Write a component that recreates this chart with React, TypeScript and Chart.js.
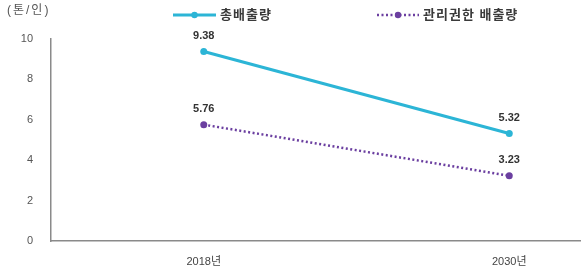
import React, { useEffect, useRef } from "react";
import { Chart, registerables } from "chart.js";

Chart.register(...registerables);

const categories = ["2018년", "2030년"];
const totalEmission = [9.38, 5.32];
const managedEmission = [5.76, 3.23];
const seriesNames = ["총배출량", "관리권한 배출량"];
const yTicks = [0, 2, 4, 6, 8, 10];
const unitLabel = "(톤/인)";

const CYAN = "#2CB5D6";
const PURPLE = "#6B3FA0";
const FONT = "'Liberation Sans', 'Noto Sans CJK KR', Arial, sans-serif";

const labelPlugin = {
  id: "valueLabels",
  afterDatasetsDraw(chart: any) {
    const ctx = chart.ctx;
    ctx.save();
    ctx.font = `bold 11px ${FONT}`;
    ctx.fillStyle = "#333";
    ctx.textAlign = "center";
    ctx.textBaseline = "middle";
    chart.data.datasets.forEach((ds: any, i: number) => {
      const meta = chart.getDatasetMeta(i);
      meta.data.forEach((pt: any, j: number) => {
        ctx.fillText(Number(ds.data[j]).toFixed(2), pt.x, pt.y - 16);
      });
    });
    ctx.restore();
  },
};

const legendPlugin = {
  id: "customLegend",
  afterDraw(chart: any) {
    const ctx = chart.ctx;
    ctx.save();
    // unit label
    ctx.font = `12px ${FONT}`;
    ctx.fillStyle = "#555";
    ctx.textAlign = "left";
    ctx.textBaseline = "middle";
    (ctx as any).letterSpacing = "2px";
    ctx.fillText(unitLabel, 7, 11);

    const items = [
      { x0: 173, x1: 216, color: CYAN, dash: [] as number[], width: 3, text: seriesNames[0], tx: 220 },
      { x0: 377, x1: 419, color: PURPLE, dash: [2, 2.5], width: 2.5, text: seriesNames[1], tx: 423 },
    ];
    const y = 15;
    items.forEach((it) => {
      ctx.beginPath();
      ctx.setLineDash(it.dash);
      ctx.strokeStyle = it.color;
      ctx.lineWidth = it.width;
      ctx.moveTo(it.x0, y);
      ctx.lineTo(it.x1, y);
      ctx.stroke();
      ctx.setLineDash([]);
      ctx.beginPath();
      ctx.fillStyle = it.color;
      ctx.arc((it.x0 + it.x1) / 2, y, 3.2, 0, Math.PI * 2);
      ctx.fill();
      ctx.font = `bold 13px ${FONT}`;
      ctx.fillStyle = "#3a3a3a";
      ctx.textAlign = "left";
      ctx.textBaseline = "middle";
      (ctx as any).letterSpacing = "1px";
      ctx.fillText(it.text, it.tx, y);
    });
    ctx.restore();
  },
};

export default function App() {
  const ref = useRef<HTMLCanvasElement | null>(null);
  useEffect(() => {
    if (!ref.current) return;
    const chart = new Chart(ref.current, {
      type: "line",
      data: {
        labels: categories,
        datasets: [
          {
            label: seriesNames[0],
            data: totalEmission,
            borderColor: CYAN,
            backgroundColor: CYAN,
            borderWidth: 3,
            pointRadius: 3.5,
            pointBackgroundColor: CYAN,
            pointBorderWidth: 0,
          },
          {
            label: seriesNames[1],
            data: managedEmission,
            borderColor: PURPLE,
            backgroundColor: PURPLE,
            borderWidth: 2.5,
            borderDash: [2, 2.5],
            pointRadius: 3.5,
            pointBackgroundColor: PURPLE,
            pointBorderWidth: 0,
          },
        ],
      },
      options: {
        animation: false,
        responsive: true,
        maintainAspectRatio: false,
        layout: { padding: { top: 39, right: 28, left: 0, bottom: 0 } },
        plugins: { legend: { display: false }, tooltip: { enabled: false } },
        scales: {
          x: {
            offset: true,
            grid: { display: false, drawTicks: false },
            border: { display: true, color: "#8a8a8a", width: 1.5 },
            ticks: { color: "#444", font: { size: 11, family: FONT }, padding: 14 },
            afterFit: (s: any) => {
              s.height = 31;
            },
          },
          y: {
            min: 0,
            max: 10,
            afterBuildTicks: (s: any) => {
              s.ticks = yTicks.map((v) => ({ value: v }));
            },
            grid: { display: false, drawTicks: false },
            border: { display: true, color: "#8a8a8a", width: 1.5 },
            ticks: { color: "#555", font: { size: 11, family: FONT }, padding: 18 },
            afterFit: (s: any) => {
              s.width = 51;
            },
          },
        },
      },
      plugins: [labelPlugin, legendPlugin],
    });
    return () => chart.destroy();
  }, []);

  return (
    <div style={{ position: "fixed", left: 0, top: 0, width: 581, height: 272, overflow: "hidden", background: "#fff" }}>
      <div style={{ position: "relative", width: 690, height: 272 }}>
        <canvas ref={ref} />
      </div>
    </div>
  );
}
